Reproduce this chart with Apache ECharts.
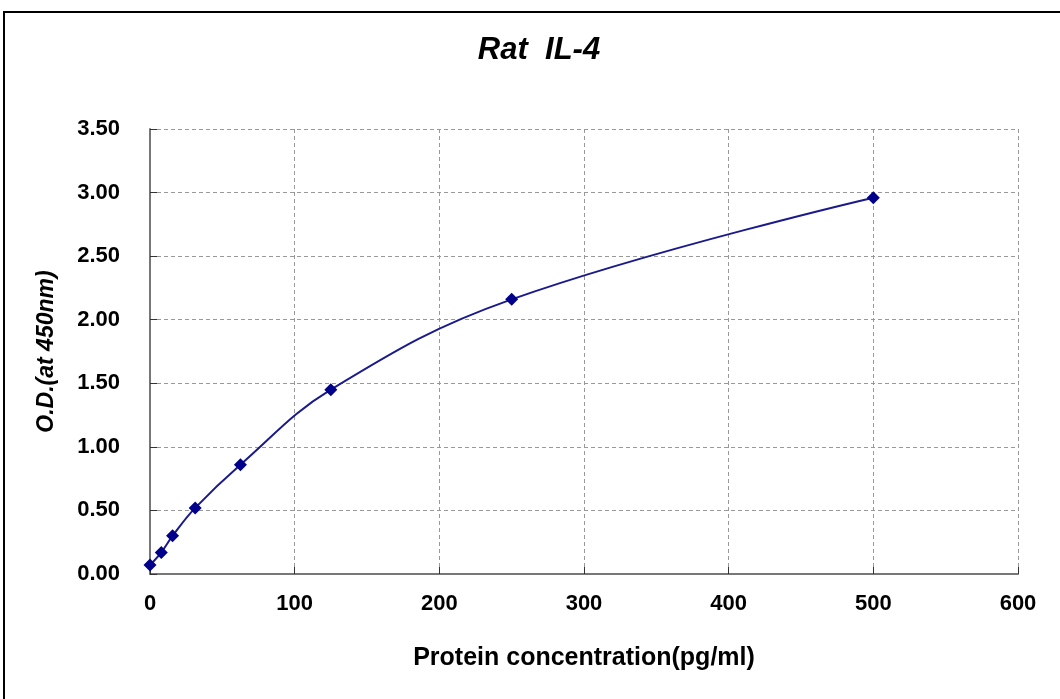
<!DOCTYPE html>
<html>
<head>
<meta charset="utf-8">
<script src="https://cdn.jsdelivr.net/npm/echarts@6/dist/echarts.min.js"></script>
<style>
  html, body { margin: 0; padding: 0; background: #fff; }
  #chart { width: 1060px; height: 699px; }
</style>
</head>
<body>
<div id="chart"></div>
<script>
// standard curve points
const concentration = [0, 7.8, 15.6, 31.25, 62.5, 125, 250, 500];
const od = [0.07, 0.17, 0.30, 0.52, 0.86, 1.45, 2.16, 2.96];

const chart = echarts.init(document.getElementById('chart'));
const font = 'Liberation Sans, Arial, sans-serif';

chart.setOption({
  animation: false,
  textStyle: { fontFamily: font },
  title: {
    text: 'Rat  IL-4',
    left: 534,
    textAlign: 'center',
    top: 30,
    textStyle: { fontSize: 31, fontWeight: 'bold', fontStyle: 'italic', color: '#000', fontFamily: font }
  },
  graphic: [{
    type: 'rect',
    shape: { x: 4, y: 12, width: 1100, height: 720 },
    style: { fill: 'none', stroke: '#000', lineWidth: 2 },
    silent: true
  }],
  grid: { left: 150, right: 42, top: 129, bottom: 125 },
  xAxis: {
    type: 'value',
    min: 0, max: 600, interval: 100,
    name: 'Protein concentration(pg/ml)',
    nameLocation: 'middle',
    nameGap: 72,
    nameTextStyle: { fontSize: 25, fontWeight: 'bold', color: '#000', fontFamily: font },
    axisLine: { lineStyle: { color: '#777', width: 2 } },
    axisTick: { inside: true, length: 7, lineStyle: { color: '#333', width: 1 } },
    axisLabel: { margin: 19, fontSize: 22, fontWeight: 'bold', color: '#000', fontFamily: font },
    splitLine: { show: true, lineStyle: { type: [4, 3], color: '#999' } }
  },
  yAxis: {
    type: 'value',
    min: 0, max: 3.5, interval: 0.5,
    name: 'O.D.(at 450nm)',
    nameLocation: 'middle',
    nameGap: 92,
    nameTextStyle: { fontSize: 23, fontWeight: 'bold', fontStyle: 'italic', color: '#000', fontFamily: font },
    axisLine: { show: true, lineStyle: { color: '#777', width: 2 } },
    axisTick: { show: true, inside: true, length: 7, lineStyle: { color: '#333', width: 1 } },
    axisLabel: { margin: 30, fontSize: 22, fontWeight: 'bold', color: '#000', fontFamily: font,
      formatter: v => v.toFixed(2) },
    splitLine: { show: true, lineStyle: { type: [4, 3], color: '#999' } }
  },
  series: [{
    type: 'line',
    data: concentration.map((c, i) => [c, od[i]]),
    smooth: 0.4,
    symbol: 'diamond',
    symbolSize: 13,
    itemStyle: { color: '#00008b' },
    lineStyle: { color: '#1a1a8c', width: 2 }
  }]
});
</script>
</body>
</html>
